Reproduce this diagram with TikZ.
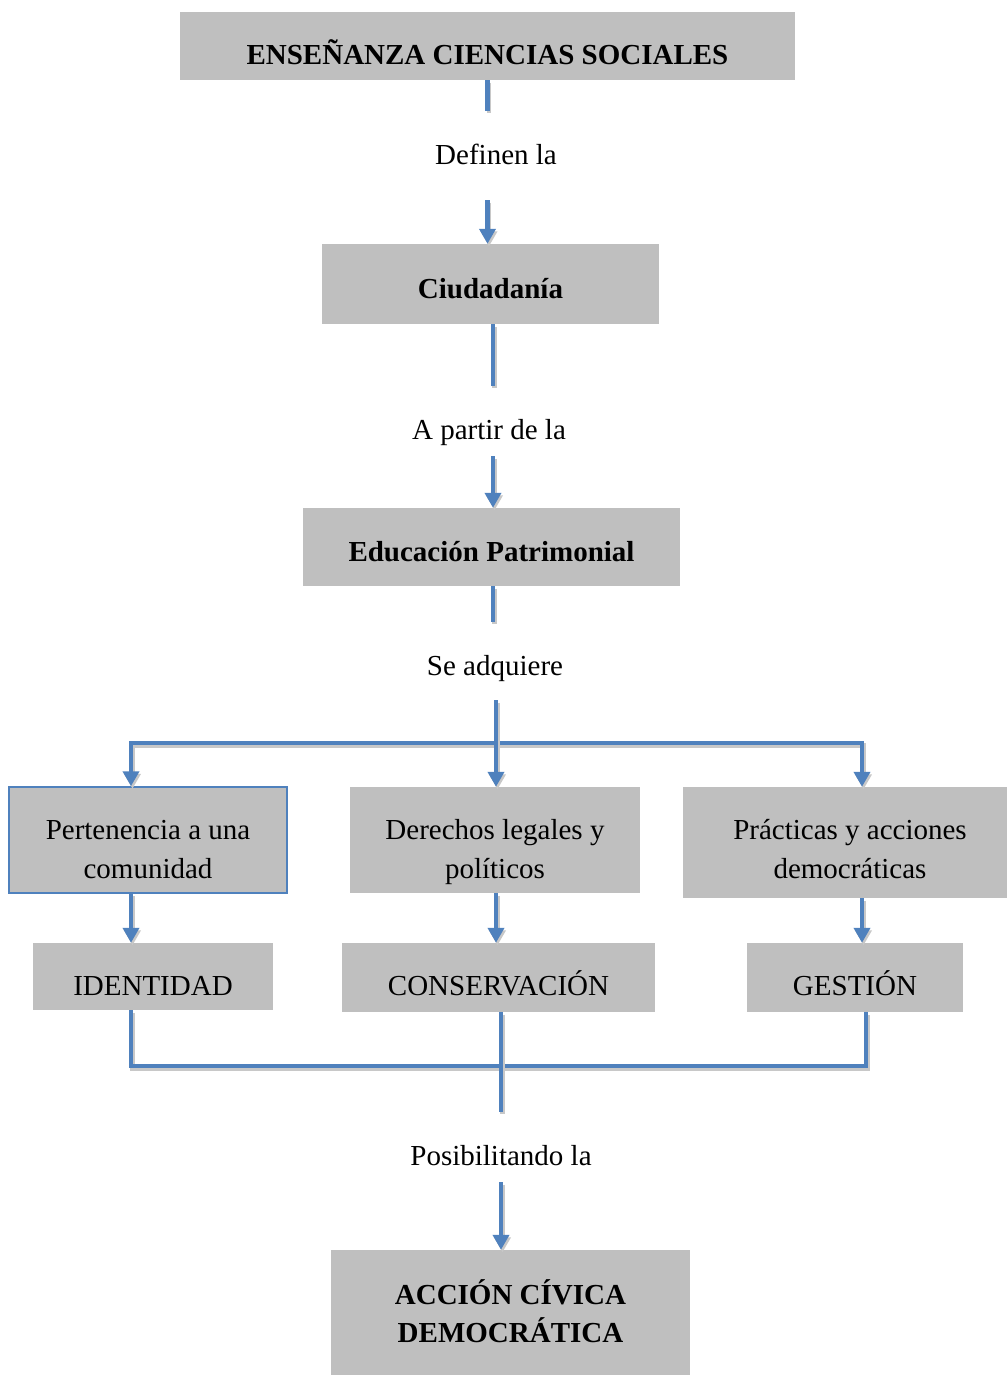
\documentclass[tikz,border=0pt]{standalone}
\usepackage{fontspec}
\setmainfont{Liberation Serif}
\usetikzlibrary{arrows.meta,calc}
\definecolor{boxgray}{HTML}{BFBFBF}
\definecolor{lineblue}{HTML}{4F81BD}
\definecolor{shadowgray}{HTML}{C8C8C8}
\tikzset{
  box/.style={fill=boxgray, inner sep=0pt, anchor=base, font=\fontsize{29}{38.5}\selectfont},
  hbox/.style={box, font=\fontsize{29}{38.5}\selectfont\bfseries},
  lbl/.style={inner sep=0pt, anchor=base, font=\fontsize{29}{38.5}\selectfont},
  link/.style={draw=lineblue, line width=4.5pt,
    preaction={draw=shadowgray, line width=4.5pt, transform canvas={shift={(1.5pt,-2.5pt)}}}},
  arrow/.style={link, -{Triangle[length=15pt,width=16pt]}},
}
\begin{document}
\begin{tikzpicture}[x=1pt,y=-1pt]
\useasboundingbox (0,0) rectangle (1007,1375);
% boxes
\node[hbox, minimum width=615pt, text height=52.6pt, text depth=15.4pt] (title) at (487.5,64.6) {ENSEÑANZA CIENCIAS SOCIALES};
\node[hbox, minimum width=337pt, text height=54pt, text depth=26pt] (ciud) at (490.5,298) {Ciudadanía};
\node[hbox, minimum width=377pt, text height=53pt, text depth=25pt] (edu) at (491.5,561) {Educación Patrimonial};
\node[box, draw=lineblue, line width=1.5pt, minimum width=278pt, text height=91pt, text depth=15pt] (pert) at (148,878)
  {\parbox[b]{260pt}{\centering Pertenencia a una\\comunidad}};
\node[box, minimum width=290pt, text height=91pt, text depth=15pt] (der) at (495,878)
  {\parbox[b]{280pt}{\centering Derechos legales y\\políticos}};
\node[box, minimum width=324pt, text height=91pt, text depth=20pt] (prac) at (845,878)
  {\parbox[b]{310pt}{\centering\hspace*{10pt}Prácticas y acciones\\\hspace*{10pt}democráticas}};
\node[box, minimum width=240pt, text height=52pt, text depth=15pt] (ident) at (153,995) {IDENTIDAD};
\node[box, minimum width=313pt, text height=52pt, text depth=17pt] (cons) at (498.5,995) {CONSERVACIÓN};
\node[box, minimum width=216pt, text height=52pt, text depth=17pt] (gest) at (855,995) {GESTIÓN};
\node[hbox, minimum width=359pt, text height=92.6pt, text depth=33.4pt] (accion) at (510.5,1342.6)
  {\parbox[b]{340pt}{\centering ACCIÓN CÍVICA\\DEMOCRÁTICA}};
% labels
\node[lbl, text height=54pt, text depth=35pt] (lbl1) at (496,165) {Definen la};
\node[lbl, text height=53pt, text depth=17pt] (lbl2) at (489,439) {A partir de la};
\node[lbl, text height=53pt, text depth=25pt] (lbl3) at (495,675) {Se adquiere};
\node[lbl, text height=53pt, text depth=17pt] (lbl4) at (501,1165) {Posibilitando la};
% coordinates
\coordinate (split) at (496,743);
\coordinate (bl) at (131,743);
\coordinate (br) at (862,743);
\coordinate (ml) at (131,1066);
\coordinate (mr) at (866,1066);
\coordinate (mc) at (501,1066);
% connectors
\draw[link] (title.south) -- (title.south |- lbl1.north);
\draw[arrow] (title.south |- lbl1.south) -- (title.south |- ciud.north);
\draw[link] ([xshift=2.5pt]ciud.south) coordinate (ciudout) -- (ciudout |- lbl2.north);
\draw[arrow] (ciudout |- lbl2.south) -- (ciudout |- edu.north);
\draw[link] ([xshift=1.5pt]edu.south) coordinate (eduout) -- (eduout |- lbl3.north);
\draw[arrow] (split) -- (bl) -- (bl |- pert.north);
\draw[arrow] (split) -- (br) -- (br |- prac.north);
\draw[arrow] (split |- lbl3.south) -- (split |- der.north);
\draw[arrow] (bl |- pert.south) -- (bl |- ident.north);
\draw[arrow] (split |- der.south) -- (split |- cons.north);
\draw[arrow] (br |- prac.south) -- (br |- gest.north);
\draw[link] (ml |- ident.south) -- (ml) -- (mr) -- (mr |- gest.south);
\draw[link] (mc |- cons.south) -- (mc |- lbl4.north);
\draw[arrow] (mc |- lbl4.south) -- (mc |- accion.north);
\end{tikzpicture}
\end{document}
